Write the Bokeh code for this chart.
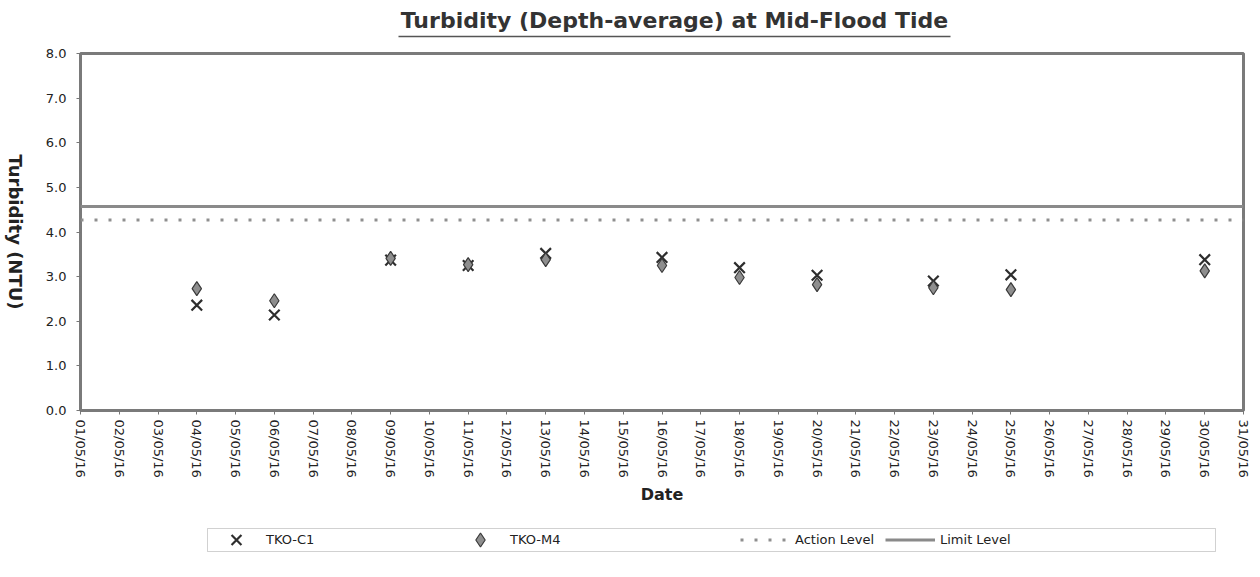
import math
from bokeh.plotting import figure
from bokeh.layouts import column, row
from bokeh.models import (Range1d, FixedTicker, NumeralTickFormatter, Label,
                          Legend, LegendItem, BoxAnnotation)
from bokeh.embed import file_html
from bokeh.resources import INLINE

# ---------------- data ----------------
tick_labels = ["01/05/16", "02/05/16", "03/05/16", "04/05/16", "05/05/16", "06/05/16",
               "07/05/16", "08/05/16", "09/05/16", "10/05/16", "11/05/16", "12/05/16",
               "13/05/16", "14/05/16", "15/05/16", "16/05/16", "17/05/16", "18/05/16",
               "19/05/16", "20/05/16", "21/05/16", "22/05/16", "23/05/16", "24/05/16",
               "25/05/16", "26/05/16", "27/05/16", "28/05/16", "29/05/16", "30/05/16",
               "31/05/16"]
sample_dates = ["04/05/16", "06/05/16", "09/05/16", "11/05/16", "13/05/16", "16/05/16",
                "18/05/16", "20/05/16", "23/05/16", "25/05/16", "30/05/16"]
tko_c1 = [2.36, 2.14, 3.37, 3.25, 3.52, 3.43, 3.20, 3.03, 2.90, 3.04, 3.38]
tko_m4 = [2.73, 2.46, 3.41, 3.27, 3.38, 3.25, 2.98, 2.82, 2.75, 2.71, 3.13]
action_level = 4.27
limit_level = 4.57
y_ticks = [0, 1, 2, 3, 4, 5, 6, 7, 8]

title_text = "Turbidity (Depth-average) at Mid-Flood Tide"
y_label_text = "Turbidity (NTU)"
x_label_text = "Date"
series_names = ["TKO-C1", "TKO-M4", "Action Level", "Limit Level"]

# ---------------- styles / layout ----------------
FONT = "DejaVu Sans"
YLAB_W = 30            # strip carrying the y-axis title
W = 1252 - YLAB_W      # width of the chart column
LEFT, RIGHT = 80, 9    # frame edges (page pixels)
TOP_H, MAIN_H, LEG_H = 45, 470, 46
MAIN_TOP, MAIN_BOTTOM = 8, 105
C1_STYLE = dict(marker="x", size=15, line_color="#2e2e2e", line_width=2.2)
M4_STYLE = dict(marker="diamond", size=14, fill_color="#8e8e8e", line_color="#3a3a3a",
                line_width=1.2)
ACTION_STYLE = dict(line_color="#8f8f8f", line_width=3, line_dash="3 11")
LIMIT_STYLE = dict(line_color="#8a8a8a", line_width=3)

tick_x = list(range(len(tick_labels)))
sample_x = [tick_labels.index(d) for d in sample_dates]


def blank_fig(height, width=W, x_range=None, y_range=None, **borders):
    f = figure(width=width, height=height, output_backend="svg", toolbar_location=None,
               x_range=x_range or Range1d(LEFT, YLAB_W + W - RIGHT),
               y_range=y_range or Range1d(0, height),
               x_axis_type=None, y_axis_type=None, **borders)
    f.outline_line_color = None
    f.xgrid.visible = False
    f.ygrid.visible = False
    f.background_fill_color = "white"
    f.border_fill_color = "white"
    return f


STRIP_BORDERS = dict(min_border_left=LEFT - YLAB_W, min_border_right=RIGHT,
                     min_border_top=0, min_border_bottom=0)

# ---------------- title strip ----------------
tf = blank_fig(TOP_H, **STRIP_BORDERS)
tf.add_layout(Label(x=674, y=TOP_H - 20, text=title_text, text_font=FONT,
                    text_font_style="bold", text_font_size="22px", text_align="center",
                    text_baseline="middle", text_color="#333333"))
tf.segment(x0=[398], y0=[TOP_H - 36], x1=[950], y1=[TOP_H - 36],
           line_color="#555555", line_width=1.5)

# ---------------- main chart ----------------
p = figure(width=W, height=MAIN_H, output_backend="svg", toolbar_location=None,
           x_range=Range1d(tick_x[0], tick_x[-1]), y_range=Range1d(y_ticks[0], y_ticks[-1]),
           min_border_left=LEFT - YLAB_W, min_border_right=RIGHT,
           min_border_top=MAIN_TOP, min_border_bottom=MAIN_BOTTOM)
p.background_fill_color = "white"
p.border_fill_color = "white"
p.outline_line_color = "#7a7a7a"
p.outline_line_width = 3
p.xgrid.visible = False
p.ygrid.visible = False

p.xaxis.ticker = FixedTicker(ticks=tick_x)
p.xaxis.major_label_overrides = {i: lab for i, lab in zip(tick_x, tick_labels)}
p.xaxis.major_label_orientation = -math.pi / 2
p.yaxis.ticker = FixedTicker(ticks=y_ticks)
p.yaxis.formatter = NumeralTickFormatter(format="0.0")
for ax in (p.xaxis[0], p.yaxis[0]):
    ax.axis_line_color = None
    ax.major_tick_line_color = "#777777"
    ax.major_tick_out = 4
    ax.major_tick_in = 0
    ax.minor_tick_line_color = None
    ax.major_label_text_font = FONT
    ax.major_label_text_font_size = "13px"
    ax.major_label_text_color = "#222222"
p.xaxis.major_label_standoff = 5
p.yaxis.major_label_standoff = 10
p.xaxis.axis_label = x_label_text
p.xaxis.axis_label_text_font = FONT
p.xaxis.axis_label_text_font_style = "bold"
p.xaxis.axis_label_text_color = "#222222"
p.xaxis.axis_label_text_font_size = "16px"
p.xaxis.axis_label_standoff = 4

r_action = p.line(tick_x, [action_level] * len(tick_x), **ACTION_STYLE)
r_limit = p.line(tick_x, [limit_level] * len(tick_x), **LIMIT_STYLE)
r_c1 = p.scatter(sample_x, tko_c1, **C1_STYLE)
r_m4 = p.scatter(sample_x, tko_m4, **M4_STYLE)

# ---------------- legend strip ----------------
lf = blank_fig(LEG_H, **STRIP_BORDERS)
# same series, plotted off-screen in this strip, only to give the legends their glyphs
lr_c1 = lf.scatter(sample_x, tko_c1, **C1_STYLE)
lr_m4 = lf.scatter(sample_x, tko_m4, **M4_STYLE)
lr_action = lf.line(tick_x, [action_level] * len(tick_x), **ACTION_STYLE)
lr_limit = lf.line(tick_x, [limit_level] * len(tick_x), **LIMIT_STYLE)
lf.add_layout(BoxAnnotation(left=207, right=1215, bottom=LEG_H - 36, top=LEG_H - 13,
                            fill_alpha=0, line_color="#666666", line_width=1))


def mk_legend(label, rend, x):
    return Legend(items=[LegendItem(label=label, renderers=[rend])], location=(x, 4),
                  orientation="horizontal", padding=0, spacing=0, margin=0,
                  glyph_width=50, glyph_height=35, label_height=16, label_standoff=5,
                  label_text_font=FONT, label_text_font_size="13px",
                  label_text_color="#222222", border_line_alpha=0,
                  background_fill_alpha=0)


for name, rend, lx in zip(series_names, [lr_c1, lr_m4, lr_action, lr_limit],
                          [131, 375, 660, 805]):
    lf.add_layout(mk_legend(name, rend, lx))

# ---------------- y-axis title strip ----------------
yf = blank_fig(TOP_H + MAIN_H + LEG_H, width=YLAB_W,
               x_range=Range1d(0, YLAB_W), y_range=Range1d(y_ticks[0], y_ticks[-1]),
               min_border_left=0, min_border_right=0,
               min_border_top=TOP_H + MAIN_TOP, min_border_bottom=MAIN_BOTTOM + LEG_H)
yf.add_layout(Label(x=YLAB_W / 2, y=4.0, angle=-math.pi / 2, text=y_label_text,
                    text_font=FONT, text_font_style="bold", text_font_size="18px",
                    text_align="center", text_baseline="middle", text_color="#222222"))

layout = row(yf, column(tf, p, lf, spacing=0), spacing=0)
open("out.html", "w").write(file_html(layout, INLINE))
